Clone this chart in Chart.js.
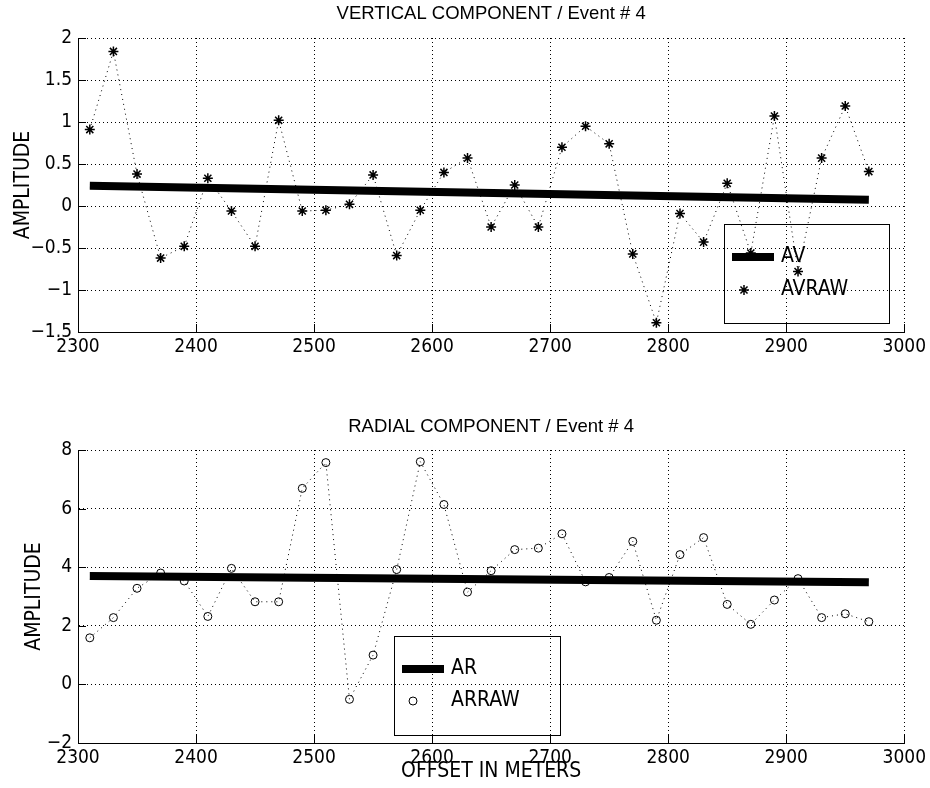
<!DOCTYPE html>
<html>
<head>
<meta charset="utf-8">
<script src="https://cdn.jsdelivr.net/npm/chart.js@4/dist/chart.umd.min.js"></script>
<style>
  html, body { margin: 0; padding: 0; background: #fff; }
  #wrap { position: relative; width: 930px; height: 788px; }
  #wrap canvas { position: absolute; left: 0; }
  #vert { top: 0; }
  #rad { top: 380px; }
</style>
</head>
<body>
<div id="wrap">
  <canvas id="vert" width="930" height="380"></canvas>
  <canvas id="rad" width="930" height="408"></canvas>
</div>
<script>
// receiver offsets (m)
const offsets = [2310, 2330, 2350, 2370, 2390, 2410, 2430, 2450, 2470, 2490, 2510, 2530,
  2550, 2570, 2590, 2610, 2630, 2650, 2670, 2690, 2710, 2730, 2750, 2770, 2790, 2810,
  2830, 2850, 2870, 2890, 2910, 2930, 2950, 2970];

// vertical component: raw amplitudes and fitted trend (end points)
const avRaw = [0.91, 1.84, 0.38, -0.62, -0.48, 0.33, -0.06, -0.48, 1.02, -0.06, -0.05, 0.02,
  0.37, -0.59, -0.05, 0.40, 0.57, -0.25, 0.25, -0.25, 0.70, 0.95, 0.74, -0.57, -1.39, -0.09,
  -0.43, 0.27, -0.56, 1.07, -0.78, 0.57, 1.19, 0.41];
const fitOffsets = [2310, 2970];
const avFit = [0.24, 0.075];

// radial component
const arRaw = [1.59, 2.28, 3.28, 3.80, 3.53, 2.32, 3.96, 2.82, 2.82, 6.69, 7.57, -0.51,
  1.00, 3.92, 7.60, 6.14, 3.15, 3.88, 4.60, 4.65, 5.14, 3.50, 3.65, 4.88, 2.19, 4.43,
  5.01, 2.73, 2.05, 2.88, 3.61, 2.28, 2.41, 2.14];
const arFit = [3.70, 3.49];

// axis ticks
const xTicks = [2300, 2400, 2500, 2600, 2700, 2800, 2900, 3000];
const vertTicks = [-1.5, -1, -0.5, 0, 0.5, 1, 1.5, 2];
const radTicks = [-2, 0, 2, 4, 6, 8];

const NARROW = '"DejaVu Sans Condensed", "Liberation Sans Narrow", "Liberation Sans", sans-serif';
const REGULAR = '"Liberation Sans", Arial, sans-serif';

Chart.defaults.color = '#000';

const fmt = v => String(v).replace('-', '\u2212');
const pts = (xs, ys) => xs.map((x, i) => ({ x: x, y: ys[i] }));

function marker(ctx, style, r, x, y) {
  ctx.beginPath();
  if (style === 'star') {
    const d = r * Math.SQRT1_2;
    ctx.moveTo(x - r, y); ctx.lineTo(x + r, y);
    ctx.moveTo(x, y - r); ctx.lineTo(x, y + r);
    ctx.moveTo(x - d, y - d); ctx.lineTo(x + d, y + d);
    ctx.moveTo(x - d, y + d); ctx.lineTo(x + d, y - d);
  } else {
    ctx.arc(x, y, r, 0, Math.PI * 2);
  }
  ctx.stroke();
}

function decor(p) {
  return {
    id: 'decor',
    afterDraw(chart) {
      const ctx = chart.ctx;
      const a = chart.chartArea;
      const xs = chart.scales.x, ys = chart.scales.y;
      ctx.save();
      ctx.strokeStyle = '#000';
      ctx.lineWidth = 1;
      // inward tick marks
      ctx.beginPath();
      xs.ticks.forEach(t => {
        const px = Math.round(xs.getPixelForValue(t.value)) + 0.5;
        ctx.moveTo(px, a.bottom);
        ctx.lineTo(px, a.bottom - 8);
      });
      ys.ticks.forEach(t => {
        const py = Math.round(ys.getPixelForValue(t.value)) + 0.5;
        ctx.moveTo(a.left, py);
        ctx.lineTo(a.left + 8, py);
      });
      ctx.stroke();

      ctx.fillStyle = '#000';
      // plot title
      ctx.font = '18.5px ' + REGULAR;
      ctx.textAlign = 'center';
      ctx.textBaseline = 'middle';
      ctx.fillText(p.title, (a.left + a.right) / 2, p.titleY);
      // axis titles
      ctx.font = '21px ' + NARROW;
      ctx.save();
      ctx.translate(p.yTitleX, (a.top + a.bottom) / 2);
      ctx.rotate(-Math.PI / 2);
      ctx.fillText('AMPLITUDE', 0, 0);
      ctx.restore();
      if (p.xTitle) {
        ctx.fillText(p.xTitle, (a.left + a.right) / 2, p.xTitleY);
      }

      // legend box (unfilled)
      const L = p.legend;
      const ds = chart.data.datasets;
      ctx.strokeRect(L.x + 0.5, L.y + 0.5, L.w, L.h);
      ctx.textAlign = 'left';
      // fitted line sample
      ctx.lineWidth = ds[0].borderWidth;
      ctx.lineCap = 'butt';
      ctx.beginPath();
      ctx.moveTo(L.x + 8, L.row1);
      ctx.lineTo(L.x + 50, L.row1);
      ctx.stroke();
      ctx.fillText(ds[0].label, L.textX, L.row1);
      // raw marker sample
      ctx.lineWidth = ds[1].pointBorderWidth;
      marker(ctx, p.marker, p.markerSize, L.x + L.markX, L.row2);
      ctx.fillText(ds[1].label, L.textX, L.row2);
      ctx.restore();
    }
  };
}

function panel(id, o) {
  return new Chart(document.getElementById(id), {
    type: 'line',
    data: {
      datasets: [{
        label: o.fitLabel,
        data: pts(fitOffsets, o.fit),
        borderColor: '#000',
        borderWidth: 8,
        borderCapStyle: 'butt',
        pointRadius: 0,
        fill: false
      }, {
        label: o.rawLabel,
        data: pts(offsets, o.raw),
        borderColor: '#000',
        borderWidth: 1,
        borderDash: [1, 4],
        pointStyle: o.marker,
        pointRadius: o.markerSize,
        pointBorderWidth: o.markerWidth,
        pointBorderColor: '#000',
        pointBackgroundColor: 'rgba(0,0,0,0)',
        fill: false,
        tension: 0
      }]
    },
    options: {
      responsive: false,
      animation: false,
      events: [],
      layout: { padding: { left: 0, right: 25, top: o.padTop, bottom: 0 } },
      plugins: { legend: { display: false }, tooltip: { enabled: false }, title: { display: false } },
      scales: {
        x: {
          type: 'linear',
          min: xTicks[0],
          max: xTicks[xTicks.length - 1],
          afterBuildTicks: s => { s.ticks = xTicks.map(v => ({ value: v })); },
          afterFit: s => { s.height = o.xHeight; },
          grid: { color: '#000', lineWidth: 1, drawTicks: false },
          border: { display: true, color: '#000', width: 1, dash: [1, 3] },
          ticks: {
            color: '#000', padding: 4, maxRotation: 0, autoSkip: false,
            font: { family: NARROW, size: 19 },
            callback: v => fmt(v)
          }
        },
        y: {
          type: 'linear',
          min: o.yTicks[0],
          max: o.yTicks[o.yTicks.length - 1],
          afterBuildTicks: s => { s.ticks = o.yTicks.map(v => ({ value: v })); },
          afterFit: s => { s.width = 78; },
          grid: { color: '#000', lineWidth: 1, drawTicks: false },
          border: { display: true, color: '#000', width: 1, dash: [1, 3] },
          ticks: {
            color: '#000', padding: 6, autoSkip: false,
            font: { family: NARROW, size: 19 },
            callback: v => fmt(v)
          }
        }
      }
    },
    plugins: [decor(o.decor)]
  });
}

panel('vert', {
  fitLabel: 'AV', rawLabel: 'AVRAW', fit: avFit, raw: avRaw,
  marker: 'star', markerSize: 5, markerWidth: 1.5, yTicks: vertTicks,
  padTop: 38, xHeight: 48,
  decor: {
    title: 'VERTICAL COMPONENT / Event # 4', titleY: 14, yTitleX: 24,
    marker: 'star', markerSize: 5,
    legend: { x: 724, y: 224, w: 165, h: 99, row1: 257, row2: 290, markX: 20, textX: 781 }
  }
});

panel('rad', {
  fitLabel: 'AR', rawLabel: 'ARRAW', fit: arFit, raw: arRaw,
  marker: 'circle', markerSize: 4, markerWidth: 1, yTicks: radTicks,
  padTop: 70, xHeight: 45,
  decor: {
    title: 'RADIAL COMPONENT / Event # 4', titleY: 47, yTitleX: 35,
    xTitle: 'OFFSET IN METERS', xTitleY: 392,
    marker: 'circle', markerSize: 4,
    legend: { x: 394, y: 256, w: 166, h: 99, row1: 289, row2: 321, markX: 19, textX: 451 }
  }
});
</script>
</body>
</html>
